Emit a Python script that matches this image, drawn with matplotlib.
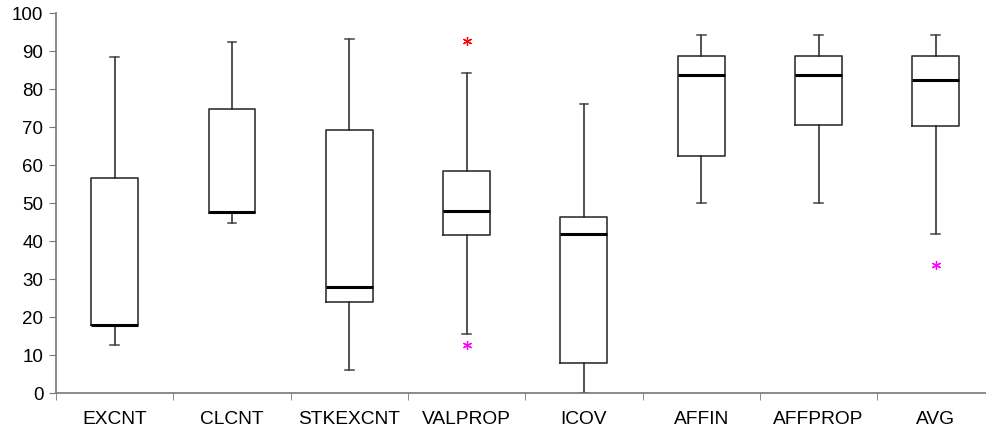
import matplotlib.pyplot as plt
import numpy as np

# Dane
labels = ['EXCNT', 'CLCNT', 'STKEXCNT', 'VALPROP', 'ICOV', 'AFFIN', 'AFFPROP', 'AVG']
whislo = [12.7, 44.9, 6.1, 15.6, 0.0, 50.0, 50.0, 41.8]
q1 = [17.9, 47.4, 24.0, 41.6, 7.9, 62.5, 70.5, 70.3]
med = [18.0, 47.6, 27.8, 47.9, 41.9, 83.8, 83.8, 82.5]
q3 = [56.6, 74.8, 69.2, 58.4, 46.4, 88.7, 88.7, 88.7]
whishi = [88.6, 92.4, 93.1, 84.3, 76.2, 94.3, 94.3, 94.3]

# odstajace punkty (kategoria, wartosc, kolor)
out_cat = [4, 4, 8]
out_val = [92.7, 12.7, 33.6]
out_col = ['#ff0000', '#ff00ff', '#ff00ff']

stats = []
for i in range(len(labels)):
    stats.append({'label': labels[i], 'whislo': whislo[i], 'q1': q1[i], 'med': med[i],
                  'q3': q3[i], 'whishi': whishi[i], 'fliers': []})

fig = plt.figure(figsize=(9.87, 4.34), dpi=100)
ax = fig.add_axes([56 / 987, 41 / 434, 938.5 / 987, 379.7 / 434])

pos = np.arange(1, len(labels) + 1)
ax.bxp(stats, positions=pos, widths=0.4, capwidths=0.075, showfliers=False,
       boxprops=dict(color='#333333', linewidth=1.2),
       whiskerprops=dict(color='#222222', linewidth=1.1),
       capprops=dict(color='#444444', linewidth=1.1),
       medianprops=dict(color='black', linewidth=2.2))

for c, v, col in zip(out_cat, out_val, out_col):
    ax.plot(c, v, marker=(6, 2, 0), color=col, markersize=6.5, markeredgewidth=0.9, linestyle='none')

ax.set_xlim(0.5, 8.5)
ax.set_ylim(0, 100)
ax.set_yticks(np.arange(0, 101, 10))
ax.set_xticks(pos)
ax.set_xticklabels(labels)
ax.set_xticks(np.arange(0.5, 8.6, 1), minor=True)

for s in ['top', 'right']:
    ax.spines[s].set_visible(False)
for s in ['left', 'bottom']:
    ax.spines[s].set_color('#777777')
    ax.spines[s].set_linewidth(1.2)

ax.tick_params(axis='x', which='major', length=0, pad=13, labelsize=13.8)
ax.tick_params(axis='x', which='minor', length=5, color='#777777', direction='out')
ax.tick_params(axis='y', length=5, color='#777777', labelsize=13.5, pad=4)
for t in ax.get_xticklabels() + ax.get_yticklabels():
    t.set_fontfamily('Liberation Sans')

plt.savefig('out.png', dpi=100)
